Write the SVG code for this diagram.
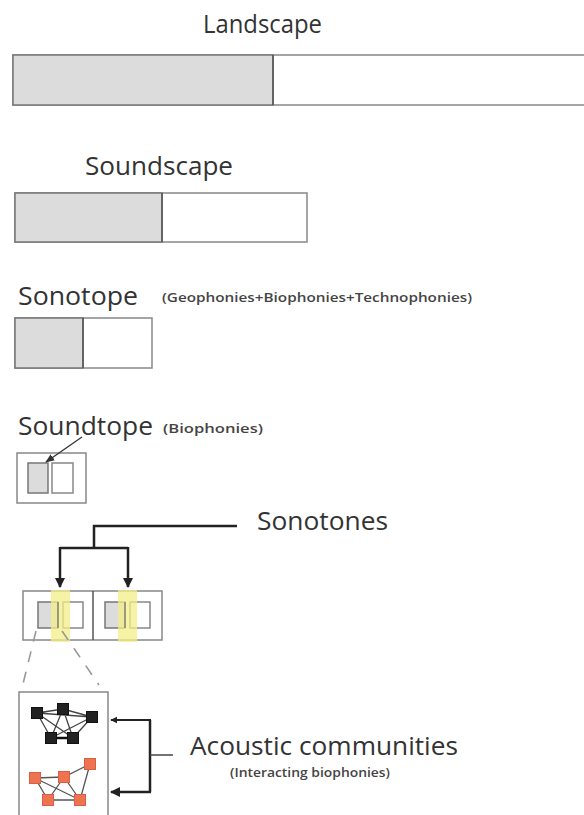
<svg xmlns="http://www.w3.org/2000/svg" width="584" height="815" viewBox="0 0 584 815">
<defs>
<style>
.t{font-family:"Open Sans","Liberation Sans",sans-serif;fill:#333;}
.big{font-size:25px;}
.sm{font-size:12.5px;font-weight:600;fill:#444;}
.box{fill:#fff;stroke:#888;stroke-width:1.5;}
.g{fill:#dcdcdc;stroke:#777;stroke-width:1.5;}
.div{stroke:#555;stroke-width:1.5;}
.conn{fill:none;stroke:#222;stroke-width:2.5;}
.thin{fill:none;stroke:#333;stroke-width:1.3;}
.dash{fill:none;stroke:#999;stroke-width:1.6;stroke-dasharray:11 10;}
.yl{fill:#f3ef8a;fill-opacity:0.75;}
.bn{fill:#222;stroke:#111;stroke-width:1;}
.on{fill:#ee7352;stroke:#d9603f;stroke-width:1;}
.be{stroke:#444;stroke-width:1.3;fill:none;}
.oe{stroke:#555;stroke-width:1.3;fill:none;}
</style>
<marker id="ah" viewBox="0 0 10 10" refX="9" refY="5" markerWidth="4" markerHeight="4" orient="auto-start-reverse">
<path d="M0,0 L10,5 L0,10 z" fill="#222"/>
</marker>
<marker id="ah2" viewBox="0 0 10 10" refX="9" refY="5" markerWidth="7" markerHeight="7" orient="auto">
<path d="M0,1 L10,5 L0,9 z" fill="#333"/>
</marker>
</defs>

<g id="landscape">
<text class="t big" x="203" y="33" textLength="119" lengthAdjust="spacingAndGlyphs">Landscape</text>
<rect class="box" x="13" y="55" width="590" height="50"/>
<rect class="g" x="13" y="55" width="260" height="50"/>
<line class="div" x1="273" y1="55" x2="273" y2="105"/>
</g>

<g id="soundscape">
<text class="t big" x="85" y="175" textLength="148" lengthAdjust="spacingAndGlyphs">Soundscape</text>
<rect class="box" x="15" y="193" width="292" height="49"/>
<rect class="g" x="15" y="193" width="147" height="49"/>
<line class="div" x1="162" y1="193" x2="162" y2="242"/>
</g>

<g id="sonotope">
<text class="t big" x="18" y="305" textLength="120" lengthAdjust="spacingAndGlyphs">Sonotope</text>
<text class="t sm" x="162" y="302" textLength="310" lengthAdjust="spacingAndGlyphs">(Geophonies+Biophonies+Technophonies)</text>
<rect class="box" x="15" y="318" width="137" height="50"/>
<rect class="g" x="15" y="318" width="68" height="50"/>
<line class="div" x1="83" y1="318" x2="83" y2="368"/>
</g>

<g id="soundtope">
<text class="t big" x="18" y="435" textLength="135" lengthAdjust="spacingAndGlyphs">Soundtope</text>
<text class="t sm" x="163" y="433" textLength="100" lengthAdjust="spacingAndGlyphs">(Biophonies)</text>
<rect class="box" x="17" y="453" width="69" height="50"/>
<rect class="g" x="28" y="463" width="20" height="30"/>
<rect class="box" x="52" y="463" width="21" height="30"/>
<line class="thin" x1="82" y1="437" x2="46" y2="462" marker-end="url(#ah2)"/>
</g>

<g id="sonotones">
<text class="t big" x="257" y="530" textLength="131" lengthAdjust="spacingAndGlyphs">Sonotones</text>
<rect class="box" x="23" y="591" width="139" height="49"/>
<line class="div" x1="93" y1="591" x2="93" y2="640" stroke="#666"/>
<rect class="g" x="38" y="602" width="20" height="26"/>
<rect class="box" x="63" y="602" width="20" height="26"/>
<rect class="yl" x="51" y="590" width="19" height="52"/>
<line x1="58" y1="602" x2="58" y2="628" stroke="#777" stroke-width="1.3"/>
<rect class="g" x="105" y="602" width="20" height="26"/>
<rect class="box" x="130" y="602" width="20" height="26"/>
<rect class="yl" x="118" y="590" width="19" height="52"/>
<line x1="125" y1="602" x2="125" y2="628" stroke="#777" stroke-width="1.3"/>
</g>

<g id="acoustic">
<text class="t" x="190" y="755" font-size="25" textLength="268" lengthAdjust="spacingAndGlyphs">Acoustic communities</text>
<text class="t sm" x="230" y="777" font-size="12" textLength="160" lengthAdjust="spacingAndGlyphs">(Interacting biophonies)</text>
<rect class="box" x="19" y="692" width="89" height="140"/>
<g id="black-community">
<path class="be" d="M37,713 L63,709 L92,717 M37,713 L51,738 M37,713 L73,738 M37,713 L92,717 M63,709 L51,738 M63,709 L73,738 M92,717 L73,738 M92,717 L51,738"/>
<line x1="51" y1="738" x2="73" y2="738" stroke="#111" stroke-width="2.5"/>
<rect class="bn" x="31.5" y="707.5" width="11" height="11"/>
<rect class="bn" x="57.5" y="703.5" width="11" height="11"/>
<rect class="bn" x="86.5" y="711.5" width="11" height="11"/>
<rect class="bn" x="45.5" y="732.5" width="11" height="11"/>
<rect class="bn" x="67.5" y="732.5" width="11" height="11"/>
</g>
<g id="orange-community">
<path class="oe" d="M35,778 L64,777 L90,764 M35,778 L48,800 M35,778 L80,800 M64,777 L48,800 M64,777 L80,800 M90,764 L80,800 M48,800 L80,800"/>
<rect class="on" x="29.5" y="772.5" width="11" height="11"/>
<rect class="on" x="58.5" y="771.5" width="11" height="11"/>
<rect class="on" x="84.5" y="758.5" width="11" height="11"/>
<rect class="on" x="42.5" y="794.5" width="11" height="11"/>
<rect class="on" x="74.5" y="794.5" width="11" height="11"/>
</g>
</g>

<g id="connectors">
<path class="conn" d="M237,526 H94 V548"/>
<path class="conn" d="M60,548 H128"/>
<line class="conn" x1="60" y1="547" x2="60" y2="587" marker-end="url(#ah)"/>
<line class="conn" x1="128" y1="547" x2="128" y2="587" marker-end="url(#ah)"/>
<path class="dash" d="M36,631 L21,692"/>
<path class="dash" d="M62,631 L99,685"/>
<path fill="none" stroke="#222" stroke-width="2.5" d="M150,720 V792"/>
<line x1="151" y1="720" x2="111" y2="720" stroke="#222" stroke-width="1.8" marker-end="url(#ah)"/>
<line x1="151" y1="792" x2="111" y2="792" stroke="#222" stroke-width="2.5" marker-end="url(#ah)"/>
<line x1="150" y1="755" x2="173" y2="755" stroke="#444" stroke-width="1.5"/>
</g>
</svg>
